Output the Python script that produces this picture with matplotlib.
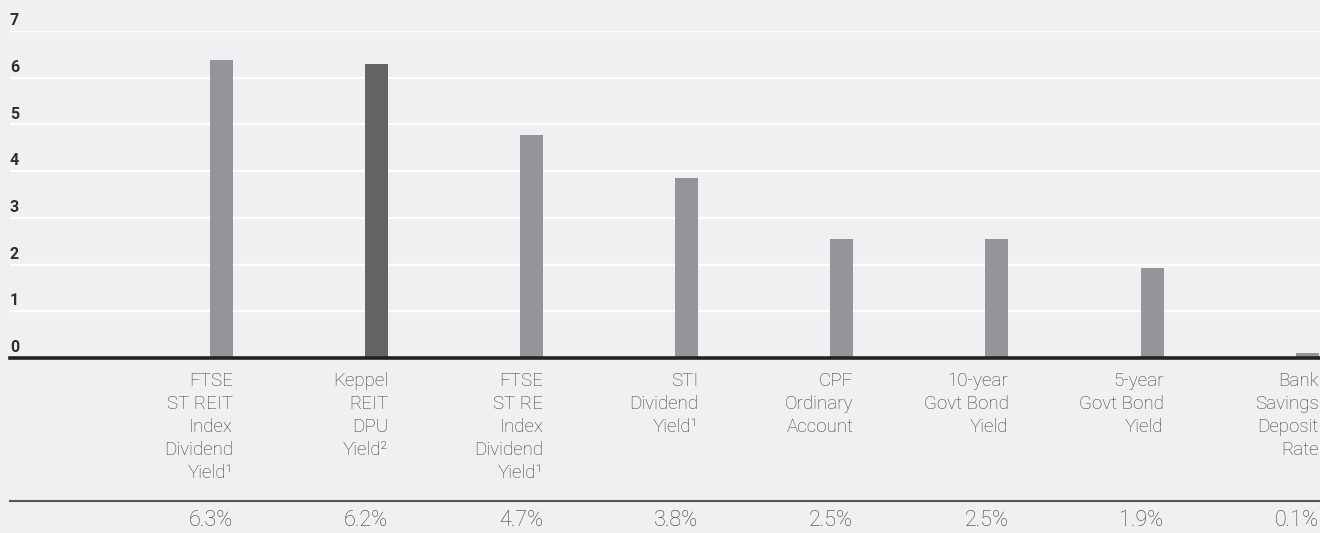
import matplotlib
matplotlib.use("Agg")
import matplotlib.pyplot as plt
import matplotlib.transforms as mtransforms
from matplotlib.lines import Line2D

# data
categories = [
    "FTSE\nST REIT\nIndex\nDividend\nYield\u00b9",
    "Keppel\nREIT\nDPU\nYield\u00b2",
    "FTSE\nST RE\nIndex\nDividend\nYield\u00b9",
    "STI\nDividend\nYield\u00b9",
    "CPF\nOrdinary\nAccount",
    "10-year\nGovt Bond\nYield",
    "5-year\nGovt Bond\nYield",
    "Bank\nSavings\nDeposit\nRate",
]
bar_values = [6.38, 6.30, 4.77, 3.85, 2.55, 2.55, 1.93, 0.11]
value_labels = ["6.3%", "6.2%", "4.7%", "3.8%", "2.5%", "2.5%", "1.9%", "0.1%"]
highlight = 1
yticks = [0, 1, 2, 3, 4, 5, 6, 7]

bg = "#eff0f2"
bar_color = "#949598"
hi_color = "#636366"
text_color = "#3c3c3f"

plt.rcParams['font.family'] = ['Roboto', 'DejaVu Sans']

W, H = 1320, 533
fig = plt.figure(figsize=(W / 100, H / 100), dpi=100, facecolor=bg)
ax = fig.add_axes([10 / W, (H - 358) / H, 1310 / W, (358 - 31) / H])
ax.set_facecolor(bg)

x = list(range(len(categories)))
colors = [hi_color if i == highlight else bar_color for i in x]
bw = 0.148
ax.bar(x, bar_values, width=bw, color=colors, zorder=3)

ax.set_xlim(-1.364, 7.083)
ax.set_ylim(0, 7)
for v in yticks[1:]:
    ax.axhline(v, color="white", lw=1.6, zorder=1)
ax.axhline(0, color="#222222", lw=2.6, zorder=4, clip_on=False)
ax.set_xticks([])
ax.set_yticks([])
for s in ax.spines.values():
    s.set_visible(False)

# y tick labels sit just above each gridline at the left edge
ylab_tr = mtransforms.blended_transform_factory(fig.transFigure, ax.transData)
for v in yticks:
    ax.text(10 / W, v + 0.06, str(v), transform=ylab_tr, ha="left", va="bottom",
            fontsize=11.5, fontweight="bold", color="#2e2e30", clip_on=False)

# category labels and value labels below the axis, right aligned to the bar
tr = mtransforms.blended_transform_factory(ax.transData, fig.transFigure)
for i in x:
    xr = i + bw / 2
    ax.text(xr, 1 - 372 / H, categories[i], transform=tr, ha="right", va="top",
            fontsize=13.5, fontweight="light", color=text_color,
            linespacing=1.36, clip_on=False)
    ax.text(xr, 1 - 520 / H, value_labels[i], transform=tr, ha="right",
            va="center", fontsize=15.5, fontweight="light", color=text_color,
            clip_on=False)

fig.add_artist(Line2D([10 / W, 1], [1 - 500.5 / H, 1 - 500.5 / H],
                      transform=fig.transFigure, color="#555555", lw=1.5))

fig.savefig("out.png", dpi=100, facecolor=bg)
